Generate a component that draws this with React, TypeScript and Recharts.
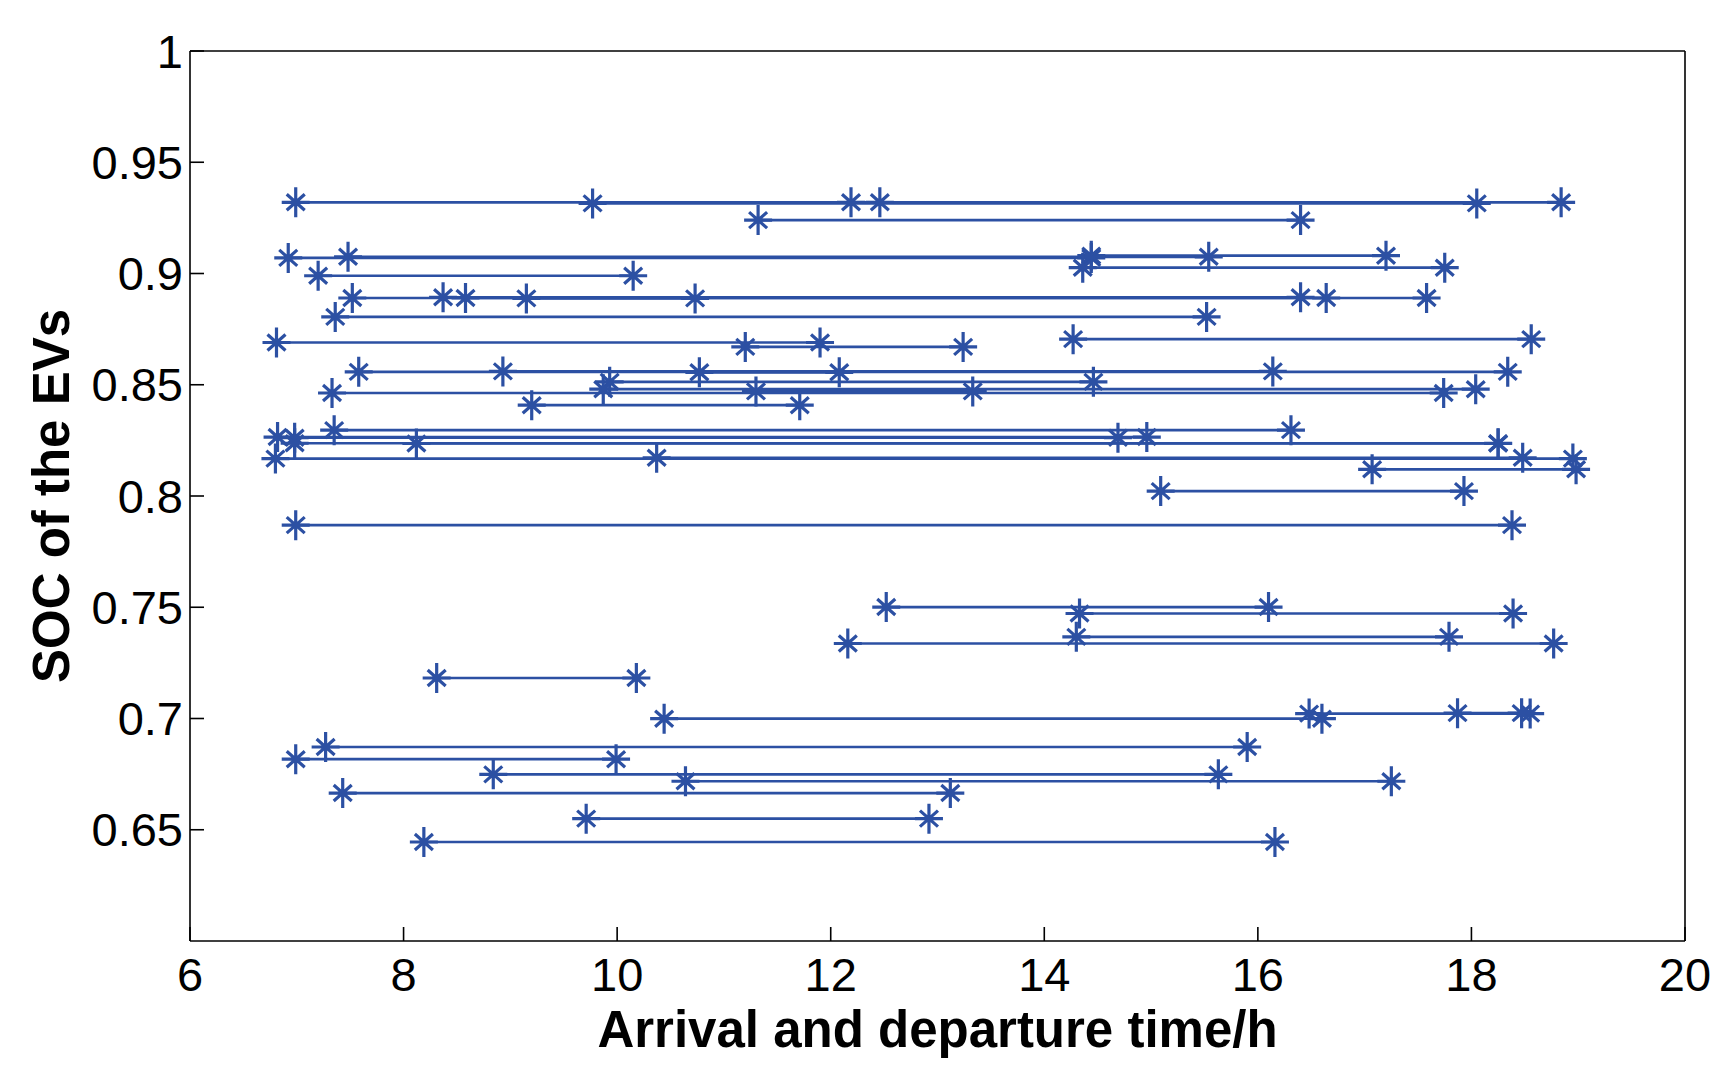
import { LineChart, Line, XAxis, YAxis } from "recharts";

// arrival / departure time (h) and SOC of each EV
const arrival = [
  6.99, 9.77, 12.19, 11.32, 6.92, 7.48, 14.44, 14.36, 7.2, 7.52, 8.37, 8.58, 9.15,
  7.36, 6.81, 11.2, 14.27, 7.58, 8.93, 10.77, 9.93, 7.33, 9.87, 11.3, 9.2, 7.35,
  6.82, 6.98, 6.98, 8.12, 6.8, 10.37, 17.07, 15.09, 6.99, 12.52, 14.33, 14.3,
  12.16, 8.31, 10.44, 16.48, 17.87, 7.27, 6.99, 8.84, 10.64, 7.43, 9.71, 8.19,
];
const departure = [
  18.84, 18.05, 12.46, 16.4, 14.44, 15.54, 17.2, 17.75, 10.15, 17.58, 16.4, 16.64,
  10.73, 15.52, 11.9, 13.24, 18.56, 18.34, 16.14, 12.08, 14.46, 17.74, 18.04, 13.33,
  11.71, 16.31, 14.96, 14.69, 18.25, 18.25, 18.95, 18.48, 18.98, 17.93, 18.38, 16.1,
  18.39, 17.79, 18.77, 10.18, 16.6, 18.55, 18.47, 15.9, 9.99, 15.63, 17.25, 13.12,
  12.92, 16.16,
];
const soc = [
  0.932, 0.9315, 0.932, 0.924, 0.907, 0.9075, 0.908, 0.9026, 0.899, 0.889, 0.8893,
  0.889, 0.8888, 0.8805, 0.869, 0.867, 0.8705, 0.8558, 0.856, 0.8556, 0.8513,
  0.8463, 0.848, 0.847, 0.8408, 0.8296, 0.8265, 0.8262, 0.8237, 0.8236, 0.8168,
  0.8172, 0.812, 0.8022, 0.7869, 0.7501, 0.7472, 0.7367, 0.7337, 0.7182, 0.6999,
  0.7022, 0.7024, 0.6872, 0.6817, 0.6749, 0.6718, 0.6665, 0.655, 0.6445,
];

const xTicks = [6, 8, 10, 12, 14, 16, 18, 20];
const yTicks = [0.65, 0.7, 0.75, 0.8, 0.85, 0.9, 0.95, 1];

const BLUE = "#2C50A3";
const FONT = "'Liberation Sans', Arial, Helvetica, sans-serif";

const segments = arrival.map((a, i) => [
  { t: a, soc: soc[i] },
  { t: departure[i], soc: soc[i] },
]);

function Star(props: any) {
  const { cx, cy, index } = props;
  if (cx == null || cy == null) return <g key={index} />;
  const d =
    `M${cx - 14},${cy}H${cx + 14}` +
    `M${cx},${cy - 15}V${cy + 15}` +
    `M${cx - 9},${cy - 8}L${cx + 9},${cy + 8}` +
    `M${cx - 9},${cy + 8}L${cx + 9},${cy - 8}`;
  return <path key={index} d={d} stroke={BLUE} strokeWidth={3.2} fill="none" />;
}

const axisStroke = { stroke: "#000", strokeWidth: 1.6 };
const tickFont = { fill: "#000", fontSize: 47, fontFamily: FONT };

export default function App() {
  return (
    <div style={{ position: "absolute", left: 0, top: 0, background: "#fff" }}>
      <LineChart
        width={1735}
        height={1080}
        margin={{ top: 50, right: 49, bottom: 0, left: 0 }}
      >
        <XAxis
          xAxisId="b"
          type="number"
          dataKey="t"
          domain={[6, 20]}
          ticks={xTicks}
          interval={0}
          allowDataOverflow
          height={139}
          tickSize={-14}
          tickMargin={31}
          axisLine={axisStroke}
          tickLine={axisStroke}
          tick={tickFont}
          label={{
            value: "Arrival and departure time/h",
            position: "insideBottom",
            offset: 33,
            style: { fill: "#000", fontSize: 51, fontWeight: "bold", fontFamily: FONT },
          }}
        />
        <XAxis
          xAxisId="t"
          orientation="top"
          type="number"
          dataKey="t"
          domain={[6, 20]}
          ticks={xTicks}
          interval={0}
          height={1}
          tickSize={-14}
          axisLine={axisStroke}
          tickLine={axisStroke}
          tickFormatter={() => ""}
        />
        <YAxis
          yAxisId="l"
          type="number"
          dataKey="soc"
          domain={[0.6, 1]}
          ticks={yTicks}
          interval={0}
          allowDataOverflow
          width={190}
          tickSize={-14}
          tickMargin={21}
          axisLine={axisStroke}
          tickLine={axisStroke}
          tick={tickFont}
          tickFormatter={(v: number) => String(v)}
          label={{
            content: () => (
              <text
                x={69}
                y={496}
                transform="rotate(-90 69 496)"
                textAnchor="middle"
                fill="#000"
                fontSize={51}
                fontWeight="bold"
                fontFamily={FONT}
              >
                SOC of the EVs
              </text>
            ),
          }}
        />
        <YAxis
          yAxisId="r"
          orientation="right"
          type="number"
          dataKey="soc"
          domain={[0.6, 1]}
          ticks={yTicks}
          interval={0}
          width={1}
          tickSize={-14}
          axisLine={axisStroke}
          tickLine={axisStroke}
          tickFormatter={() => ""}
        />
        {segments.map((seg, i) => (
          <Line
            key={i}
            xAxisId="b"
            yAxisId="l"
            data={seg}
            dataKey="soc"
            type="linear"
            stroke={BLUE}
            strokeWidth={2.7}
            dot={Star}
            activeDot={false}
            isAnimationActive={false}
          />
        ))}
      </LineChart>
    </div>
  );
}
